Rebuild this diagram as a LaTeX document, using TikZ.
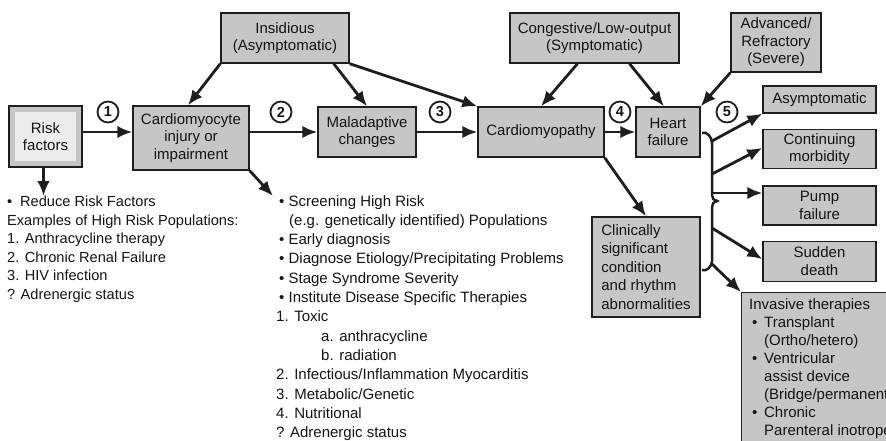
\documentclass[tikz,border=0pt]{standalone}
\usepackage{fontspec}
\setmainfont{Liberation Sans}
\usepackage{tikz}
\usetikzlibrary{arrows.meta,positioning}
\definecolor{hfgray}{RGB}{198,198,198}
\definecolor{hflight}{RGB}{236,236,236}
\definecolor{hfline}{RGB}{30,30,30}
\definecolor{hftext}{RGB}{20,20,20}

\begin{document}
\begin{tikzpicture}[x=1pt, y=-1pt, node distance=15pt,
        box/.style={rectangle, draw=hfline, line width=1.4pt, fill=hfgray, align=center, inner sep=2pt, font=\fontsize{15}{17.5}\selectfont, text=hftext},
        riskbox/.style={box, path picture={
            \fill[hflight] ([shift={(6pt,-6pt)}]path picture bounding box.north west) rectangle ([shift={(-6pt,6pt)}]path picture bounding box.south east);}},
        outbox/.style={box, minimum width=113pt},
        listtext/.style={align=left, inner sep=0pt, anchor=north west, text=hftext},
        stepnum/.style={circle, draw=hfline, line width=1.8pt, minimum size=21pt, inner sep=0pt, font=\fontsize{14.5}{14.5}\selectfont\bfseries, text=hftext},
        arrow/.style={-{Latex[length=15pt,width=12.5pt]}, line width=2.8pt, draw=hfline},
        bracepen/.style={line width=2.5pt, draw=hfline}
    ]
        \useasboundingbox (0,0) rectangle (886,441);
        \clip (0,0) rectangle (886,441);
        \fill[white] (0,0) rectangle (886,441);

        % main chain
        \node[riskbox, minimum width=73pt, minimum height=61pt] (risk) at (45.5,136.5) {Risk\\factors};
        \node[box, minimum width=116pt, minimum height=64pt] (cardio) at (191,138) {Cardiomyocyte\\injury or\\impairment};
        \node[box, minimum width=98pt, minimum height=50pt] (malad) at (367,132) {Maladaptive\\changes};
        \node[box, minimum width=126pt, minimum height=50pt] (cmp) at (541,132) {Cardiomyopathy};
        \node[box, minimum width=64pt, minimum height=50pt] (hf) at (668,132) {Heart\\failure};

        % stages on top
        \node[box, minimum width=128pt, minimum height=50pt] (insid) at (285,38) {Insidious\\(Asymptomatic)};
        \node[box, minimum width=169pt, minimum height=50pt] (cong) at (594.5,38) {Congestive/Low-output\\(Symptomatic)};
        \node[box, minimum width=90pt, minimum height=59pt] (adv) at (776,42.5) {Advanced/\\Refractory\\(Severe)};

        % outcomes
        \node[outbox, minimum height=27pt] (asym) at (819.5,99.5) {Asymptomatic};
        \node[outbox, minimum height=39pt, below=15pt of asym] (cont) {Continuing\\morbidity};
        \node[outbox, minimum height=39pt, below=16pt of cont] (pump) {Pump\\failure};
        \node[outbox, minimum height=40pt, below=15pt of pump] (sudden) {Sudden\\death};
        \node[box, align=left, minimum width=108pt, minimum height=100pt, font=\fontsize{15}{18.5}\selectfont] (clin) at (646,267) {Clinically\\significant\\condition\\and rhythm\\abnormalities};
        \node[box, align=left, anchor=north west, minimum width=165pt, inner xsep=4pt, inner ysep=6pt, font=\fontsize{15}{18}\selectfont] (inv) at (741,292) {Invasive therapies\\
            \hspace*{3pt}\makebox[12pt][l]{•}Transplant\\
            \hspace*{15pt}(Ortho/hetero)\\
            \hspace*{3pt}\makebox[12pt][l]{•}Ventricular\\
            \hspace*{15pt}assist device\\
            \hspace*{15pt}(Bridge/permanent)\\
            \hspace*{3pt}\makebox[12pt][l]{•}Chronic\\
            \hspace*{15pt}Parenteral inotropes};

        % step numbers
        \node[stepnum] (n1) at (108,112) {1};
        \node[stepnum] (n2) at (281,112) {2};
        \node[stepnum] (n3) at (440,112) {3};
        \node[stepnum] (n4) at (620,112) {4};
        \node[stepnum] (n5) at (727,112) {5};

        % text lists
        \node[listtext, font=\fontsize{14.6}{18.5}\selectfont] (risklist) at (7,196) {\makebox[13pt][l]{•}Reduce Risk Factors\\Examples of High Risk Populations:\\1. Anthracycline therapy\\2. Chronic Renal Failure\\3. HIV infection\\? Adrenergic status};
        \node[listtext, font=\fontsize{15}{19.3}\selectfont] (tlist) at (276,195) {\hspace*{3pt}• Screening High Risk\\
            \hspace*{13pt}(e.g. genetically identified) Populations\\
            \hspace*{3pt}• Early diagnosis\\
            \hspace*{3pt}• Diagnose Etiology/Precipitating Problems\\
            \hspace*{3pt}• Stage Syndrome Severity\\
            \hspace*{3pt}• Institute Disease Specific Therapies\\
            1. Toxic\\
            \hspace*{45pt}a. anthracycline\\
            \hspace*{45pt}b. radiation\\
            2. Infectious/Inflammation Myocarditis\\
            3. Metabolic/Genetic\\
            4. Nutritional\\
            ? Adrenergic status};

        % brace after heart failure
        \coordinate (b1) at (712,141);
        \coordinate (b2) at (712,174);
        \coordinate (b3) at (712,193);
        \coordinate (b4) at (712,228);
        \coordinate (b5) at (712,264);
        \draw[bracepen] (702,133) to[out=20,in=90] (712,143) -- (712,195) to[out=-90,in=180] (717,201) to[out=180,in=90] (712,207) -- (712,261) to[out=-90,in=-20] (702,270);

        % connectors
        \draw[arrow] (risk.east |- malad.west) -- (cardio.west |- malad.west);
        \draw[arrow] (cardio.east |- malad.west) -- (malad.west);
        \draw[arrow] (malad) -- (cmp);
        \draw[arrow] (cmp) -- (hf);
        \draw[arrow] (insid.south west) -- ([xshift=-3pt]cardio.north);
        \draw[arrow] ([xshift=-16pt]insid.south east) -- (malad.north);
        \draw[arrow] (insid.south east) -- (cmp.north west);
        \draw[arrow] ([xshift=-17pt]cong.south) -- (cmp.north);
        \draw[arrow] ([xshift=35pt]cong.south) -- ([xshift=-4pt]hf.north);
        \draw[arrow] (adv.south west) -- (hf.north east);
        \draw[arrow] (cmp.south east) -- (clin.north);
        \draw[arrow] ([xshift=-2pt]risk.south) -- ([xshift=-2pt]risk.south |- risklist.north);
        \draw[arrow] (cardio.south east) -- ([xshift=-3pt,yshift=-1pt]tlist.north west);
        \draw[arrow] (b1) -- (asym.south west);
        \draw[arrow] (b2) -- ([yshift=1pt]cont.west);
        \draw[arrow] (b3) -- (b3 -| pump.west);
        \draw[arrow] (b4) -- ([yshift=2pt]sudden.west);
        \draw[arrow] (b5) -- (inv.north west);
    \end{tikzpicture}
\end{document}
